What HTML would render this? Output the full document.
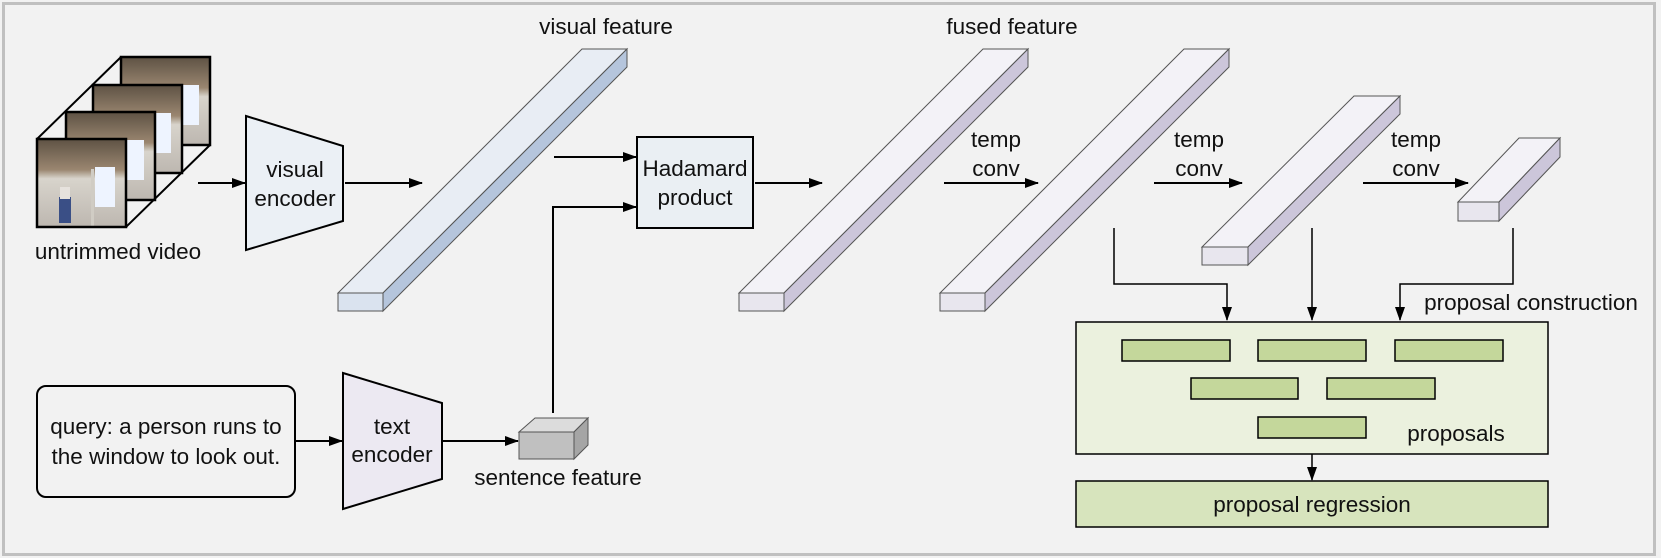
<!DOCTYPE html>
<html><head><meta charset="utf-8"><style>
html,body{margin:0;padding:0;background:#f2f2f2;}
svg{display:block;font-family:"Liberation Sans",sans-serif;}
text{font-size:22.5px;fill:#111;text-anchor:middle;}
</style></head><body>
<svg width="1661" height="558" viewBox="0 0 1661 558" xmlns="http://www.w3.org/2000/svg">
<defs>
<marker id="ah" markerWidth="14" markerHeight="10" refX="13" refY="5" orient="auto" markerUnits="userSpaceOnUse">
<path d="M0,0 L14,5 L0,10 Z" fill="#000"/></marker>
<linearGradient id="fg" x1="0" y1="0" x2="0" y2="1">
<stop offset="0" stop-color="#5e5244"/><stop offset="0.35" stop-color="#9a8670"/><stop offset="0.45" stop-color="#d8d4cc"/><stop offset="1" stop-color="#bdb7b0"/></linearGradient>
<g id="frm">
<rect x="0" y="0" width="89" height="88" fill="url(#fg)"/>
<rect x="58" y="28" width="20" height="40" fill="#eef4ff"/>
<rect x="54" y="30" width="3" height="58" fill="#d0ccc4"/>
<rect x="22" y="58" width="12" height="26" fill="#3a4f86"/>
<rect x="23" y="48" width="10" height="12" fill="#e6e2dd"/>
<rect x="0" y="0" width="89" height="88" fill="none" stroke="#000" stroke-width="2.5"/>
</g>
</defs>
<rect x="3.5" y="3.5" width="1651" height="551" fill="#f2f2f2" stroke="#c0c0c0" stroke-width="3"/>

<use href="#frm" x="121" y="57"/>
<use href="#frm" x="93" y="85"/>
<use href="#frm" x="66" y="112"/>
<use href="#frm" x="37" y="139"/>
<line x1="37" y1="139" x2="121" y2="57" stroke="#000" stroke-width="2"/>
<line x1="126" y1="227" x2="210" y2="145" stroke="#000" stroke-width="2"/>
<text x="118" y="259">untrimmed video</text>

<line x1="198" y1="183" x2="245" y2="183" stroke="#000" stroke-width="2" marker-end="url(#ah)"/>
<polygon points="246,116 343,146 343,221 246,250" fill="#ebf0f5" stroke="#000" stroke-width="2"/>
<text x="295" y="177">visual</text><text x="295" y="206">encoder</text>
<line x1="345" y1="183" x2="422" y2="183" stroke="#000" stroke-width="2" marker-end="url(#ah)"/>

<polygon points="338,293 383,293 627,49 582,49" fill="#e8edf4" stroke="#555" stroke-width="1"/>
<polygon points="383,293 383,311 627,67 627,49" fill="#b5c5dc" stroke="#555" stroke-width="1"/>
<rect x="338" y="293" width="45" height="18" fill="#dae3ef" stroke="#555" stroke-width="1"/>
<text x="606" y="34">visual feature</text>

<line x1="554" y1="157" x2="636" y2="157" stroke="#000" stroke-width="2" marker-end="url(#ah)"/>
<polyline points="553,413 553,207 636,207" fill="none" stroke="#000" stroke-width="2" marker-end="url(#ah)"/>
<rect x="637" y="137" width="116" height="91" fill="#eaeff3" stroke="#000" stroke-width="2"/>
<text x="695" y="176">Hadamard</text><text x="695" y="205">product</text>
<line x1="755" y1="183" x2="822" y2="183" stroke="#000" stroke-width="2" marker-end="url(#ah)"/>

<g stroke="#555" stroke-width="1">
<polygon points="739,293 784,293 1028,49 983,49" fill="#f3f2f7"/>
<polygon points="784,293 784,311 1028,67 1028,49" fill="#ccc6da"/>
<rect x="739" y="293" width="45" height="18" fill="#e8e6ee"/>
<polygon points="940,293 985,293 1229,49 1184,49" fill="#f3f2f7"/>
<polygon points="985,293 985,311 1229,67 1229,49" fill="#ccc6da"/>
<rect x="940" y="293" width="45" height="18" fill="#e8e6ee"/>
<polygon points="1202,247 1248,247 1400,96 1354,96" fill="#f3f2f7"/>
<polygon points="1248,247 1248,265 1400,114 1400,96" fill="#ccc6da"/>
<rect x="1202" y="247" width="46" height="18" fill="#e8e6ee"/>
<polygon points="1458,202 1499,202 1560,138 1519,138" fill="#f3f2f7"/>
<polygon points="1499,202 1499,221 1560,157 1560,138" fill="#ccc6da"/>
<rect x="1458" y="202" width="41" height="19" fill="#e8e6ee"/>
</g>
<text x="1012" y="34">fused feature</text>

<text x="996" y="147">temp</text><text x="996" y="176">conv</text>
<line x1="944" y1="183" x2="1038" y2="183" stroke="#000" stroke-width="2" marker-end="url(#ah)"/>
<text x="1199" y="147">temp</text><text x="1199" y="176">conv</text>
<line x1="1154" y1="183" x2="1242" y2="183" stroke="#000" stroke-width="2" marker-end="url(#ah)"/>
<text x="1416" y="147">temp</text><text x="1416" y="176">conv</text>
<line x1="1363" y1="183" x2="1468" y2="183" stroke="#000" stroke-width="2" marker-end="url(#ah)"/>

<polyline points="1114,228 1114,284 1227,284 1227,320" fill="none" stroke="#000" stroke-width="1.5" marker-end="url(#ah)"/>
<line x1="1312" y1="228" x2="1312" y2="320" stroke="#000" stroke-width="1.5" marker-end="url(#ah)"/>
<polyline points="1513,228 1513,284 1400,284 1400,320" fill="none" stroke="#000" stroke-width="1.5" marker-end="url(#ah)"/>
<text x="1531" y="310">proposal construction</text>

<rect x="1076" y="322" width="472" height="132" fill="#ebf1de" stroke="#000" stroke-width="1.5"/>
<g fill="#c4d79b" stroke="#000" stroke-width="1.5">
<rect x="1122" y="340" width="108" height="21"/><rect x="1258" y="340" width="108" height="21"/><rect x="1395" y="340" width="108" height="21"/>
<rect x="1191" y="378" width="107" height="21"/><rect x="1327" y="378" width="108" height="21"/>
<rect x="1258" y="417" width="108" height="21"/>
</g>
<text x="1456" y="441">proposals</text>
<line x1="1312" y1="454" x2="1312" y2="480" stroke="#000" stroke-width="1.5" marker-end="url(#ah)"/>
<rect x="1076" y="481" width="472" height="46" fill="#d7e4bd" stroke="#000" stroke-width="1.5"/>
<text x="1312" y="512">proposal regression</text>

<rect x="37" y="386" width="258" height="111" rx="9" fill="#f2f2f2" stroke="#000" stroke-width="2"/>
<text x="166" y="434">query: a person runs to</text>
<text x="166" y="464">the window to look out.</text>
<line x1="295" y1="441" x2="342" y2="441" stroke="#000" stroke-width="2" marker-end="url(#ah)"/>
<polygon points="343,373 442,403 442,479 343,509" fill="#ece9f2" stroke="#000" stroke-width="2"/>
<text x="392" y="434">text</text><text x="392" y="462">encoder</text>
<line x1="442" y1="441" x2="518" y2="441" stroke="#000" stroke-width="2" marker-end="url(#ah)"/>
<g stroke="#555" stroke-width="1">
<polygon points="519,432 574,432 588,418 535,418" fill="#dcdcdc"/>
<polygon points="574,432 574,459 588,445 588,418" fill="#a5a5a5"/>
<rect x="519" y="432" width="55" height="27" fill="#c0c0c0"/>
</g>
<text x="558" y="485">sentence feature</text>
</svg>
</body></html>
